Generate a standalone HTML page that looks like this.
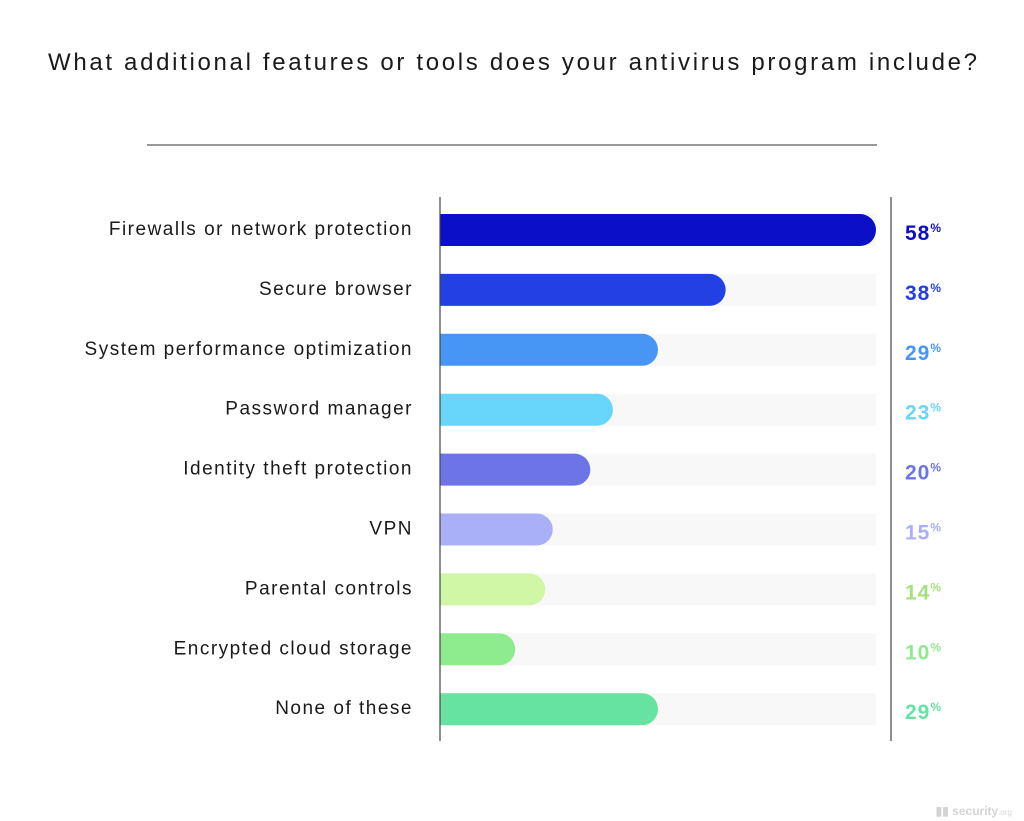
<!DOCTYPE html>
<html><head><meta charset="utf-8"><style>
html,body{margin:0;padding:0;background:#fff;}
svg{display:block;font-family:"Liberation Sans",sans-serif;}
</style></head><body>
<svg id="chart" width="1024" height="821" viewBox="0 0 1024 821">
<text x="48" y="70" font-size="24" fill="#1a1a1a" textLength="929" lengthAdjust="spacing">What additional features or tools does your antivirus program include?</text>
<line x1="147" y1="145" x2="877" y2="145" stroke="#333" stroke-width="1"/>
<g id="bars"></g>
<line x1="440" y1="197" x2="440" y2="741" stroke="#444" stroke-width="1.2"/>
<line x1="891" y1="197" x2="891" y2="741" stroke="#444" stroke-width="1.2"/>
<text x="1012" y="815" text-anchor="end" font-size="12" font-weight="bold" fill="#d4d4d4">▮▮ security<tspan font-size="8" font-weight="normal">.org</tspan></text>
</svg>
<script>
const categories=["Firewalls or network protection","Secure browser","System performance optimization","Password manager","Identity theft protection","VPN","Parental controls","Encrypted cloud storage","None of these"];
const values=[58,38,29,23,20,15,14,10,29];
const colors=["#0c0fc8","#2340e4","#4796f5","#67d6fa","#6c74e6","#aab0f8","#cff7a5","#8eeb8e","#66e3a0"];
const valueLabels=["58","38","29","23","20","15","14","10","29"];
const textColors=["#0c0fc8","#2340e4","#4796f5","#67d6fa","#6c74e6","#aab0f8","#a4e27a","#8eeb8e","#66e3a0"];
const ns="http://www.w3.org/2000/svg";
const x0=440,xMax=876,maxV=58;
function xs(v){return x0+(xMax-x0)*v/maxV;}
function yc(i){return 230+i*59.9;}
const g=document.getElementById('bars');
const bh=32;
categories.forEach((c,i)=>{
  const y=yc(i);
  const tr=document.createElementNS(ns,'rect');
  
  
  tr.setAttribute('x',x0);tr.setAttribute('y',y-bh/2);tr.setAttribute('width',xMax-x0);tr.setAttribute('height',bh);tr.setAttribute('fill','#f8f8f8');
  g.appendChild(tr);
  const w=xs(values[i])-x0;
  const p=document.createElementNS(ns,'path');
  
  
  const r=bh/2;
  p.setAttribute('d',`M${x0},${y-r} H${x0+w-r} A${r},${r} 0 0 1 ${x0+w-r},${y+r} H${x0} Z`);
  p.setAttribute('fill',colors[i]);
  g.appendChild(p);
  const t=document.createElementNS(ns,'text');
  
  
  t.setAttribute('x',413);t.setAttribute('y',y+5);t.setAttribute('text-anchor','end');t.setAttribute('font-size','19');t.setAttribute('letter-spacing','1.5');t.setAttribute('fill','#1a1a1a');
  t.textContent=c;g.appendChild(t);
  const v=document.createElementNS(ns,'text');
  
  
  v.setAttribute('x',905);v.setAttribute('y',y+10);v.setAttribute('font-size','21');v.setAttribute('letter-spacing','1');v.setAttribute('font-weight','bold');v.setAttribute('fill',textColors[i]);
  v.textContent=valueLabels[i];
  const s=document.createElementNS(ns,'tspan');
  s.setAttribute('font-size','12');s.setAttribute('dy','-8');s.textContent='%';
  v.appendChild(s);g.appendChild(v);
});
</script>
</body></html>
